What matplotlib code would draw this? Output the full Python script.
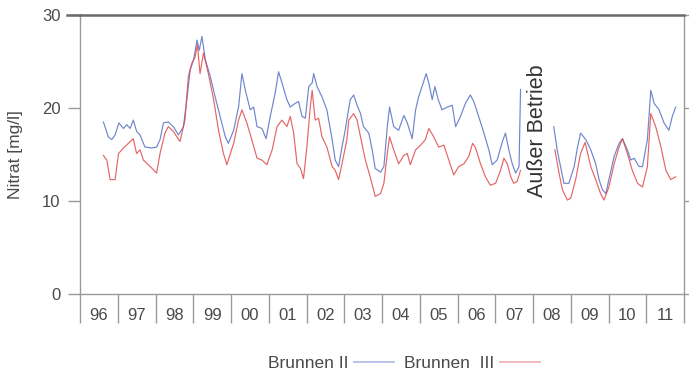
import numpy as np
import matplotlib
matplotlib.use("Agg")
import matplotlib.pyplot as plt
from matplotlib.ticker import FixedLocator, NullFormatter, FixedFormatter

plt.rcParams['font.family'] = ['Liberation Sans', 'DejaVu Sans']

# ---- data (decimal years, nitrate mg/l) ----
b2_t = [1996.62, 1996.75, 1996.84, 1996.93, 1997.03, 1997.15, 1997.24, 1997.33, 1997.41, 1997.50,
        1997.59, 1997.72, 1997.90, 1998.03, 1998.12, 1998.21, 1998.34, 1998.47, 1998.61, 1998.74,
        1998.83, 1998.92, 1999.01, 1999.10, 1999.16, 1999.23, 1999.32, 1999.45, 1999.58, 1999.71,
        1999.85, 1999.93, 2000.07, 2000.20, 2000.29, 2000.38, 2000.51, 2000.60, 2000.69, 2000.82,
        2000.93, 2001.04, 2001.17, 2001.26, 2001.35, 2001.48, 2001.57, 2001.70, 2001.79, 2001.88,
        2001.97, 2002.06, 2002.15, 2002.19, 2002.28, 2002.41, 2002.54, 2002.68, 2002.76, 2002.85,
        2002.94, 2003.02, 2003.10, 2003.16, 2003.25, 2003.34, 2003.43, 2003.51, 2003.65, 2003.74,
        2003.82, 2003.96, 2004.05, 2004.14, 2004.20, 2004.31, 2004.44, 2004.58, 2004.67, 2004.80,
        2004.89, 2004.97, 2005.06, 2005.17, 2005.24, 2005.33, 2005.40, 2005.49, 2005.59, 2005.73,
        2005.86, 2005.95, 2006.08, 2006.21, 2006.34, 2006.43, 2006.56, 2006.70, 2006.83, 2006.92,
        2007.05, 2007.19, 2007.27, 2007.36, 2007.45, 2007.54, 2007.63, 2007.67,
        2008.10,
        2008.55, 2008.64, 2008.73, 2008.82, 2008.95, 2009.09, 2009.18, 2009.26, 2009.40, 2009.53,
        2009.66, 2009.75, 2009.84, 2009.93, 2010.01, 2010.15, 2010.28, 2010.37, 2010.50, 2010.59,
        2010.68, 2010.81, 2010.90, 2011.03, 2011.12, 2011.21, 2011.34, 2011.47, 2011.60, 2011.69,
        2011.78]
b2_v = [18.5, 16.9, 16.6, 17.1, 18.4, 17.8, 18.2, 17.8, 18.7, 17.5,
        17.1, 15.8, 15.7, 15.8, 16.6, 18.4, 18.5, 18.0, 17.1, 18.0,
        20.9, 24.1, 25.2, 27.3, 26.2, 27.7, 25.2, 23.4, 21.2, 19.1,
        16.9, 16.2, 17.6, 20.1, 23.7, 21.9, 19.8, 20.1, 18.0, 17.8,
        16.7, 19.1, 21.6, 23.9, 22.7, 20.9, 20.1, 20.5, 20.7, 19.1,
        18.9, 22.3, 22.7, 23.7, 22.3, 21.2, 19.8, 16.6, 14.4, 13.7,
        15.8, 17.5, 19.5, 20.9, 21.4, 20.3, 19.4, 18.0, 17.3, 15.5,
        13.5, 13.1, 13.7, 18.0, 20.1, 18.0, 17.6, 19.2, 18.4, 16.7,
        19.8, 21.2, 22.3, 23.7, 22.7, 20.9, 22.3, 20.9, 19.8, 20.1,
        20.3, 18.0, 19.1, 20.5, 21.4, 20.7, 19.1, 17.3, 15.5, 13.9,
        14.4, 16.4, 17.3, 15.5, 14.0, 13.0, 13.7, 22.0,
        np.nan,
        18.0, 15.5, 13.7, 11.9, 11.9, 13.7, 15.8, 17.3, 16.6, 15.5,
        14.0, 12.3, 11.2, 10.8, 12.3, 14.8, 16.2, 16.7, 15.5, 14.4,
        14.6, 13.7, 13.7, 16.6, 21.9, 20.5, 19.8, 18.4, 17.6, 19.1,
        20.1]

b3_t = [1996.62, 1996.71, 1996.80, 1996.93, 1997.02, 1997.15, 1997.28, 1997.41, 1997.50, 1997.59,
        1997.68, 1997.86, 1998.03, 1998.12, 1998.25, 1998.34, 1998.47, 1998.65, 1998.78, 1998.87,
        1998.96, 1999.05, 1999.11, 1999.18, 1999.27, 1999.40, 1999.54, 1999.67, 1999.80, 1999.89,
        2000.07, 2000.20, 2000.29, 2000.42, 2000.55, 2000.69, 2000.82, 2000.95, 2001.09, 2001.22,
        2001.35, 2001.48, 2001.57, 2001.66, 2001.75, 2001.84, 2001.92, 2002.01, 2002.10, 2002.15,
        2002.23, 2002.32, 2002.41, 2002.54, 2002.68, 2002.76, 2002.85, 2002.94, 2003.07, 2003.12,
        2003.25, 2003.34, 2003.43, 2003.56, 2003.70, 2003.82, 2003.96, 2004.05, 2004.14, 2004.20,
        2004.31, 2004.44, 2004.58, 2004.67, 2004.75, 2004.89, 2005.02, 2005.15, 2005.24, 2005.37,
        2005.50, 2005.64, 2005.77, 2005.90, 2006.03, 2006.17, 2006.30, 2006.40, 2006.47, 2006.61,
        2006.74, 2006.87, 2007.01, 2007.14, 2007.23, 2007.32, 2007.41, 2007.49, 2007.58, 2007.67,
        2008.10,
        2008.58, 2008.69, 2008.78, 2008.91, 2009.00, 2009.13, 2009.26, 2009.38, 2009.53, 2009.66,
        2009.79, 2009.88, 2010.01, 2010.15, 2010.28, 2010.37, 2010.50, 2010.63, 2010.77, 2010.90,
        2011.03, 2011.12, 2011.25, 2011.39, 2011.52, 2011.65, 2011.78]
b3_v = [14.9, 14.4, 12.3, 12.3, 15.1, 15.7, 16.2, 16.7, 15.1, 15.5,
        14.4, 13.7, 13.0, 15.1, 17.3, 18.0, 17.5, 16.4, 18.7, 23.4,
        24.8, 25.5, 26.8, 23.7, 25.9, 23.7, 20.9, 17.6, 15.1, 13.9,
        16.2, 18.7, 19.8, 18.4, 16.6, 14.6, 14.4, 13.9, 15.5, 18.0,
        18.7, 18.0, 19.1, 17.3, 14.0, 13.5, 12.4, 15.8, 20.1, 21.9,
        18.7, 18.9, 16.9, 15.8, 13.7, 13.3, 12.3, 14.0, 16.6, 18.7,
        19.4, 18.7, 16.9, 14.4, 12.4, 10.5, 10.8, 11.9, 15.1, 16.9,
        15.5, 14.0, 14.9, 15.1, 13.9, 15.5, 16.0, 16.6, 17.8, 16.9,
        15.8, 16.0, 14.4, 12.8, 13.7, 14.0, 14.8, 16.2, 15.8, 14.0,
        12.6, 11.7, 11.9, 13.3, 14.6, 14.0, 12.6, 11.9, 12.1, 13.3,
        np.nan,
        15.5, 13.0, 11.2, 10.1, 10.3, 12.3, 15.1, 16.3, 13.7, 12.3,
        10.8, 10.1, 11.5, 14.0, 15.8, 16.7, 15.1, 13.3, 11.9, 11.5,
        13.7, 19.4, 18.0, 15.8, 13.3, 12.3, 12.6]

year_labels = ['96', '97', '98', '99', '00', '01', '02', '03', '04', '05',
               '06', '07', '08', '09', '10', '11']
y_ticks = [0, 10, 20, 30]
series_names = ['Brunnen II', 'Brunnen  III']
note_text = 'Außer Betrieb'
y_label = 'Nitrat [mg/l]'

# ---- figure ----
W, H = 689, 372
fig = plt.figure(figsize=(W / 100, H / 100), dpi=100)
ax = fig.add_axes([80 / W, 1 - 294 / H, (684 - 80) / W, (294 - 15) / H])

txt = '#4a4a4a'
blue = '#5670c4'
red = '#e04a4a'

l2, = ax.plot(b2_t, b2_v, color=blue, lw=0.85, alpha=0.85)
l3, = ax.plot(b3_t, b3_v, color=red, lw=0.85, alpha=0.85)

ax.set_xlim(1996, 2012)
ax.set_ylim(0, 30)

for s in ['left', 'right', 'bottom']:
    ax.spines[s].set_color('#9a9a9a')
    ax.spines[s].set_linewidth(1.0)
ax.spines['top'].set_color('#6a6a6a')
ax.spines['top'].set_linewidth(1.8)

ax.set_yticks(y_ticks)
ax.tick_params(axis='y', which='major', direction='out', length=9, width=1,
               color='#9a9a9a', labelsize=12, labelcolor=txt, pad=5)
ax.tick_params(axis='y', right=True, labelright=False)

years = np.arange(1996, 2013)
ax.xaxis.set_major_locator(FixedLocator(years))
ax.xaxis.set_major_formatter(NullFormatter())
ax.xaxis.set_minor_locator(FixedLocator(years[:-1] + 0.5))
ax.xaxis.set_minor_formatter(FixedFormatter(year_labels))
ax.tick_params(axis='x', which='major', direction='out', length=21, width=1, color='#9a9a9a')
ax.tick_params(axis='x', which='minor', length=0, labelsize=12, labelcolor=txt, pad=10)

# extend top line to left like a tick
ax.plot([-0.022, 0], [1, 1], transform=ax.transAxes, color='#6a6a6a', lw=1.8, clip_on=False)

ax.set_ylabel(y_label, fontsize=12.5, color=txt)
ax.yaxis.set_label_coords(-0.094, 0.5)

ax.text(2008.12, 17.6, note_text, rotation=90, ha='center', va='center',
        fontsize=15.5, color='#333333')

leg = fig.legend([l2, l3], series_names, loc='center', bbox_to_anchor=(404 / W, 1 - 363 / H),
                 ncol=2, frameon=False, markerfirst=False, fontsize=12.5,
                 handlelength=2.3, handletextpad=0.3, columnspacing=0.6)
for t in leg.get_texts():
    t.set_color(txt)
leg.get_lines()[0].set_color('#a9b3e0')
leg.get_lines()[1].set_color('#f0a9a9')
for ln in leg.get_lines():
    ln.set_linewidth(1.3)

fig.savefig('out.png', dpi=100)
